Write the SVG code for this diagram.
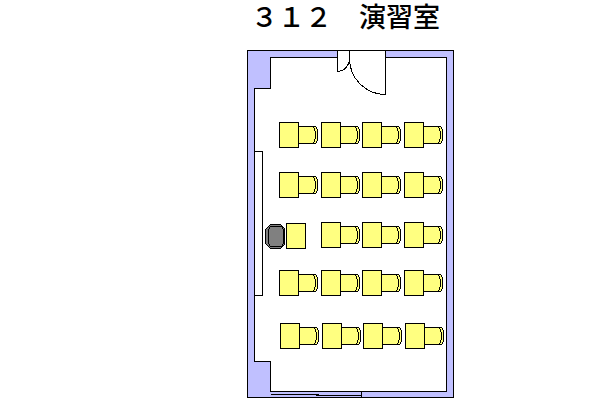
<svg xmlns="http://www.w3.org/2000/svg" width="600" height="400" viewBox="0 0 600 400">
<style>
.l{fill:none;stroke:#000;stroke-width:1}
.y{fill:#ffff80;stroke:#000;stroke-width:1}
.t{font-family:"Noto Sans CJK JP","Liberation Sans",sans-serif;font-size:27px;font-weight:500;fill:#000}
path,rect{shape-rendering:crispEdges}
</style>
<defs>
<g id="set">
<path class="y" d="M19.500 4.500H35C38 4.500 39 9 39 13C39 17 38 21.500 35 21.500H19.500Z"/>
<path class="l" d="M34.500 4.500Q38.500 13 34.500 21.500"/>
<rect class="y" x="0.500" y="0.500" width="19" height="25"/>
</g>
</defs>
<rect width="600" height="400" fill="#fff"/>
<text id="title" class="t" y="27" x="251">３１２　演習室</text>
<g id="room">
<path fill="#c0c0ff" stroke="#000" d="M247.500 50.500H337.500V57.500H270.500V88.500H254.500V361.500H270.500V391.500H446.500V57.500H385.500V50.500H453.500V397.500H247.500Z"/>
<path fill="#fff" stroke="#000" d="M254.500 151.500H262.500V295.500H254.500"/>
</g>
<g id="door">
<path class="l" d="M337.500 50.500H385.500"/>
<path class="l" d="M337.500 50.500V71.500A12.500 13 0 0 0 349.500 58.500"/>
<path class="l" d="M349.500 50.500V59"/>
<path class="l" d="M385.500 50.500V94.500A36 36 0 0 1 349.500 58.500"/>
</g>
<g id="window">
<path class="l" d="M270.500 394.500H318.500M316 395.500H361.500M361.500 391.500V397"/>
</g>
<g id="row1">
<use href="#set" x="279" y="122"/><use href="#set" x="321" y="122"/><use href="#set" x="362" y="122"/><use href="#set" x="404" y="122"/>
</g>
<g id="row2">
<use href="#set" x="279" y="172"/><use href="#set" x="321" y="172"/><use href="#set" x="362" y="172"/><use href="#set" x="404" y="172"/>
</g>
<g id="row3">
<use href="#set" x="321" y="222"/><use href="#set" x="362" y="222"/><use href="#set" x="404" y="222"/>
</g>
<g id="row4">
<use href="#set" x="279" y="270"/><use href="#set" x="321" y="270"/><use href="#set" x="362" y="270"/><use href="#set" x="404" y="270"/>
</g>
<g id="row5">
<use href="#set" x="280" y="323"/><use href="#set" x="322" y="323"/><use href="#set" x="363" y="323"/><use href="#set" x="405" y="323"/>
</g>
<g id="teacher">
<path fill="#808080" stroke="#000" d="M270.500 224.500H280.500L284.500 228.500V244.500L280.500 248.500H270.500L265.500 243.500V229.500Z"/>
<path class="l" d="M268.500 229.500L270.500 226.500H281.500L283.500 229.500V243.500L281.500 246.500H270.500L268.500 243.500Z"/>
<rect class="y" x="286.500" y="223.500" width="19" height="25"/>
</g>
</svg>
